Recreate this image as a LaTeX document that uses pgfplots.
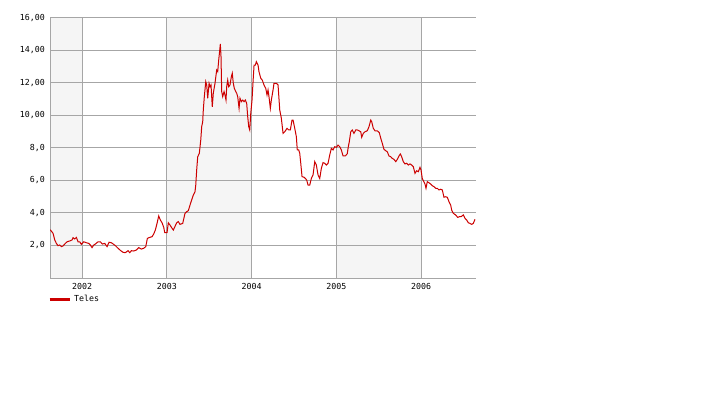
\documentclass[border=0pt]{standalone}
\usepackage{fontspec}
\usepackage{pgfplots}
\pgfplotsset{compat=1.18}
\newfontfamily\pixfont{DejaVu Sans Mono}
\definecolor{bandgray}{HTML}{F5F5F5}
\definecolor{gridgray}{HTML}{A6A6A6}
\definecolor{linered}{HTML}{CC0000}
\begin{document}
\begin{tikzpicture}
\path (0,0) rectangle (727pt,399pt);
\begin{axis}[
  set layers,
  at={(50pt,121pt)}, anchor=south west,
  scale only axis, width=426pt, height=260pt,
  xmin=2001.622, xmax=2006.649, ymin=0, ymax=16,
  axis x line=bottom, axis y line=left,
  axis line style={-, draw=gridgray, line width=1pt},
  xtick={2002,2003,2004,2005,2006},
  xticklabels={2002,2003,2004,2005,2006},
  ytick={2,4,6,8,10,12,14,16},
  yticklabels={{2,0},{4,0},{6,0},{8,0},{10,00},{12,00},{14,00},{16,00}},
  major tick length=0pt,
  xmajorgrids, ymajorgrids,
  grid style={draw=gridgray, line width=1pt},
  tick label style={font=\pixfont\fontsize{8.3}{9}\selectfont, inner sep=0pt},
  yticklabel style={anchor=east, xshift=-5pt},
  xticklabel style={anchor=north, yshift=-5pt},
  legend style={draw=none, fill=none, inner sep=0pt, at={(0,0)}, anchor=north west,
    yshift=-15pt, xshift=-2pt, font=\pixfont\fontsize{8.3}{9}\selectfont},
  legend image code/.code={\path[draw=none] (0pt,0pt) -- (22.5pt,0pt);\draw[linered, line width=3pt] (0pt,0pt) -- (20pt,0pt);},
]
\addplot[draw=none, fill=bandgray, on layer=axis background, forget plot] coordinates {(2001.622,0) (2001.622,16) (2002,16) (2002,0)} \closedcycle;
\addplot[draw=none, fill=bandgray, on layer=axis background, forget plot] coordinates {(2003,0) (2003,16) (2004,16) (2004,0)} \closedcycle;
\addplot[draw=none, fill=bandgray, on layer=axis background, forget plot] coordinates {(2005,0) (2005,16) (2006,16) (2006,0)} \closedcycle;
\addplot[linered, line width=1pt, mark=none] coordinates {
(2001.625,2.97)(2001.658,2.75)(2001.678,2.34)(2001.697,2.13)(2001.717,1.99)(2001.737,2.03)
(2001.756,1.93)(2001.776,1.97)(2001.796,2.09)(2001.823,2.23)(2001.855,2.28)(2001.882,2.34)
(2001.894,2.48)(2001.914,2.40)(2001.933,2.50)(2001.953,2.23)(2001.973,2.23)(2001.992,2.07)
(2002.020,2.23)(2002.051,2.17)(2002.079,2.13)(2002.098,2.03)(2002.118,1.87)(2002.138,2.03)
(2002.157,2.09)(2002.189,2.23)(2002.216,2.23)(2002.240,2.09)(2002.268,2.13)(2002.295,1.93)
(2002.319,2.20)(2002.346,2.17)(2002.374,2.07)(2002.398,1.97)(2002.425,1.83)(2002.457,1.68)
(2002.484,1.58)(2002.511,1.56)(2002.543,1.68)(2002.563,1.56)(2002.582,1.68)(2002.610,1.66)
(2002.641,1.72)(2002.669,1.87)(2002.700,1.78)(2002.728,1.83)(2002.752,1.93)(2002.771,2.44)
(2002.799,2.50)(2002.826,2.54)(2002.846,2.71)(2002.865,2.95)(2002.885,3.36)(2002.905,3.82)
(2002.924,3.57)(2002.944,3.40)(2002.964,3.12)(2002.976,2.79)(2003.003,2.79)(2003.018,3.40)
(2003.038,3.26)(2003.062,3.06)(2003.077,2.95)(2003.117,3.40)(2003.136,3.47)(2003.156,3.30)
(2003.188,3.36)(2003.215,3.98)(2003.235,4.08)(2003.254,4.14)(2003.278,4.55)(2003.313,5.10)
(2003.333,5.31)(2003.342,5.72)(2003.353,6.65)(2003.365,7.46)(2003.384,7.67)(2003.401,8.49)
(2003.412,9.31)(2003.424,9.62)(2003.431,10.34)(2003.443,11.16)(2003.460,12.08)(2003.471,11.88)
(2003.483,11.06)(2003.499,11.98)(2003.510,11.77)(2003.522,11.88)(2003.537,10.54)(2003.549,11.37)
(2003.569,11.98)(2003.589,12.80)(2003.601,12.70)(2003.613,13.42)(2003.625,14.03)(2003.632,14.40)
(2003.640,13.62)(2003.648,11.47)(2003.660,11.16)(2003.676,11.47)(2003.687,11.26)(2003.699,10.95)
(2003.707,11.77)(2003.719,12.18)(2003.731,11.77)(2003.746,11.88)(2003.762,12.39)(2003.773,12.60)
(2003.785,11.98)(2003.797,11.67)(2003.814,11.47)(2003.825,11.37)(2003.837,11.16)(2003.853,10.44)
(2003.864,11.06)(2003.880,10.85)(2003.896,10.95)(2003.912,10.85)(2003.927,10.95)(2003.943,10.75)
(2003.955,9.93)(2003.967,9.31)(2003.979,9.11)(2003.991,10.13)(2004.006,10.95)(2004.018,12.08)
(2004.030,13.10)(2004.045,13.10)(2004.057,13.31)(2004.077,13.10)(2004.088,12.70)(2004.109,12.29)
(2004.127,12.18)(2004.147,11.88)(2004.168,11.67)(2004.183,11.26)(2004.195,11.57)(2004.206,11.16)
(2004.222,10.44)(2004.234,10.95)(2004.254,11.57)(2004.265,11.98)(2004.293,11.98)(2004.313,11.88)
(2004.333,10.34)(2004.352,9.83)(2004.372,8.90)(2004.392,9.00)(2004.419,9.21)(2004.439,9.11)
(2004.458,9.11)(2004.478,9.72)(2004.490,9.72)(2004.510,9.21)(2004.529,8.70)(2004.540,7.88)
(2004.557,7.88)(2004.569,7.67)(2004.581,7.06)(2004.596,6.24)(2004.620,6.20)(2004.635,6.13)
(2004.651,6.03)(2004.667,5.72)(2004.687,5.72)(2004.706,6.13)(2004.726,6.34)(2004.746,7.16)
(2004.765,6.95)(2004.785,6.34)(2004.805,6.13)(2004.824,6.75)(2004.844,7.10)(2004.864,7.06)
(2004.883,6.95)(2004.903,7.06)(2004.923,7.57)(2004.942,7.98)(2004.962,7.88)(2004.982,8.08)
(2005.001,8.04)(2005.021,8.18)(2005.041,8.08)(2005.060,7.88)(2005.080,7.51)(2005.107,7.51)
(2005.130,7.65)(2005.142,8.08)(2005.154,8.39)(2005.171,9.00)(2005.189,9.11)(2005.209,8.90)
(2005.230,9.11)(2005.248,9.11)(2005.268,9.06)(2005.289,9.00)(2005.300,8.66)(2005.319,8.90)
(2005.339,9.00)(2005.366,9.06)(2005.386,9.31)(2005.407,9.72)(2005.418,9.62)(2005.437,9.21)
(2005.457,9.06)(2005.484,9.06)(2005.508,8.94)(2005.525,8.60)(2005.543,8.29)(2005.563,7.92)
(2005.584,7.83)(2005.602,7.77)(2005.622,7.51)(2005.643,7.46)(2005.661,7.36)(2005.681,7.30)
(2005.702,7.16)(2005.720,7.30)(2005.740,7.51)(2005.756,7.63)(2005.772,7.46)(2005.791,7.16)
(2005.811,7.02)(2005.831,7.06)(2005.850,6.95)(2005.870,7.02)(2005.890,6.95)(2005.909,6.85)
(2005.929,6.44)(2005.949,6.60)(2005.968,6.54)(2005.988,6.81)(2006.000,6.65)(2006.015,6.13)
(2006.027,5.99)(2006.047,5.78)(2006.059,5.52)(2006.074,5.93)(2006.094,5.86)(2006.115,5.78)
(2006.133,5.68)(2006.153,5.62)(2006.174,5.52)(2006.192,5.52)(2006.212,5.42)(2006.233,5.46)
(2006.251,5.42)(2006.271,4.97)(2006.292,5.00)(2006.310,4.97)(2006.330,4.70)(2006.350,4.49)
(2006.362,4.18)(2006.381,3.98)(2006.409,3.88)(2006.433,3.73)(2006.452,3.77)(2006.472,3.77)
(2006.499,3.88)(2006.519,3.67)(2006.539,3.57)(2006.558,3.40)(2006.578,3.36)(2006.598,3.30)
(2006.617,3.36)(2006.637,3.61)
};
\addlegendentry{Teles}
\end{axis}
\end{tikzpicture}
\end{document}
